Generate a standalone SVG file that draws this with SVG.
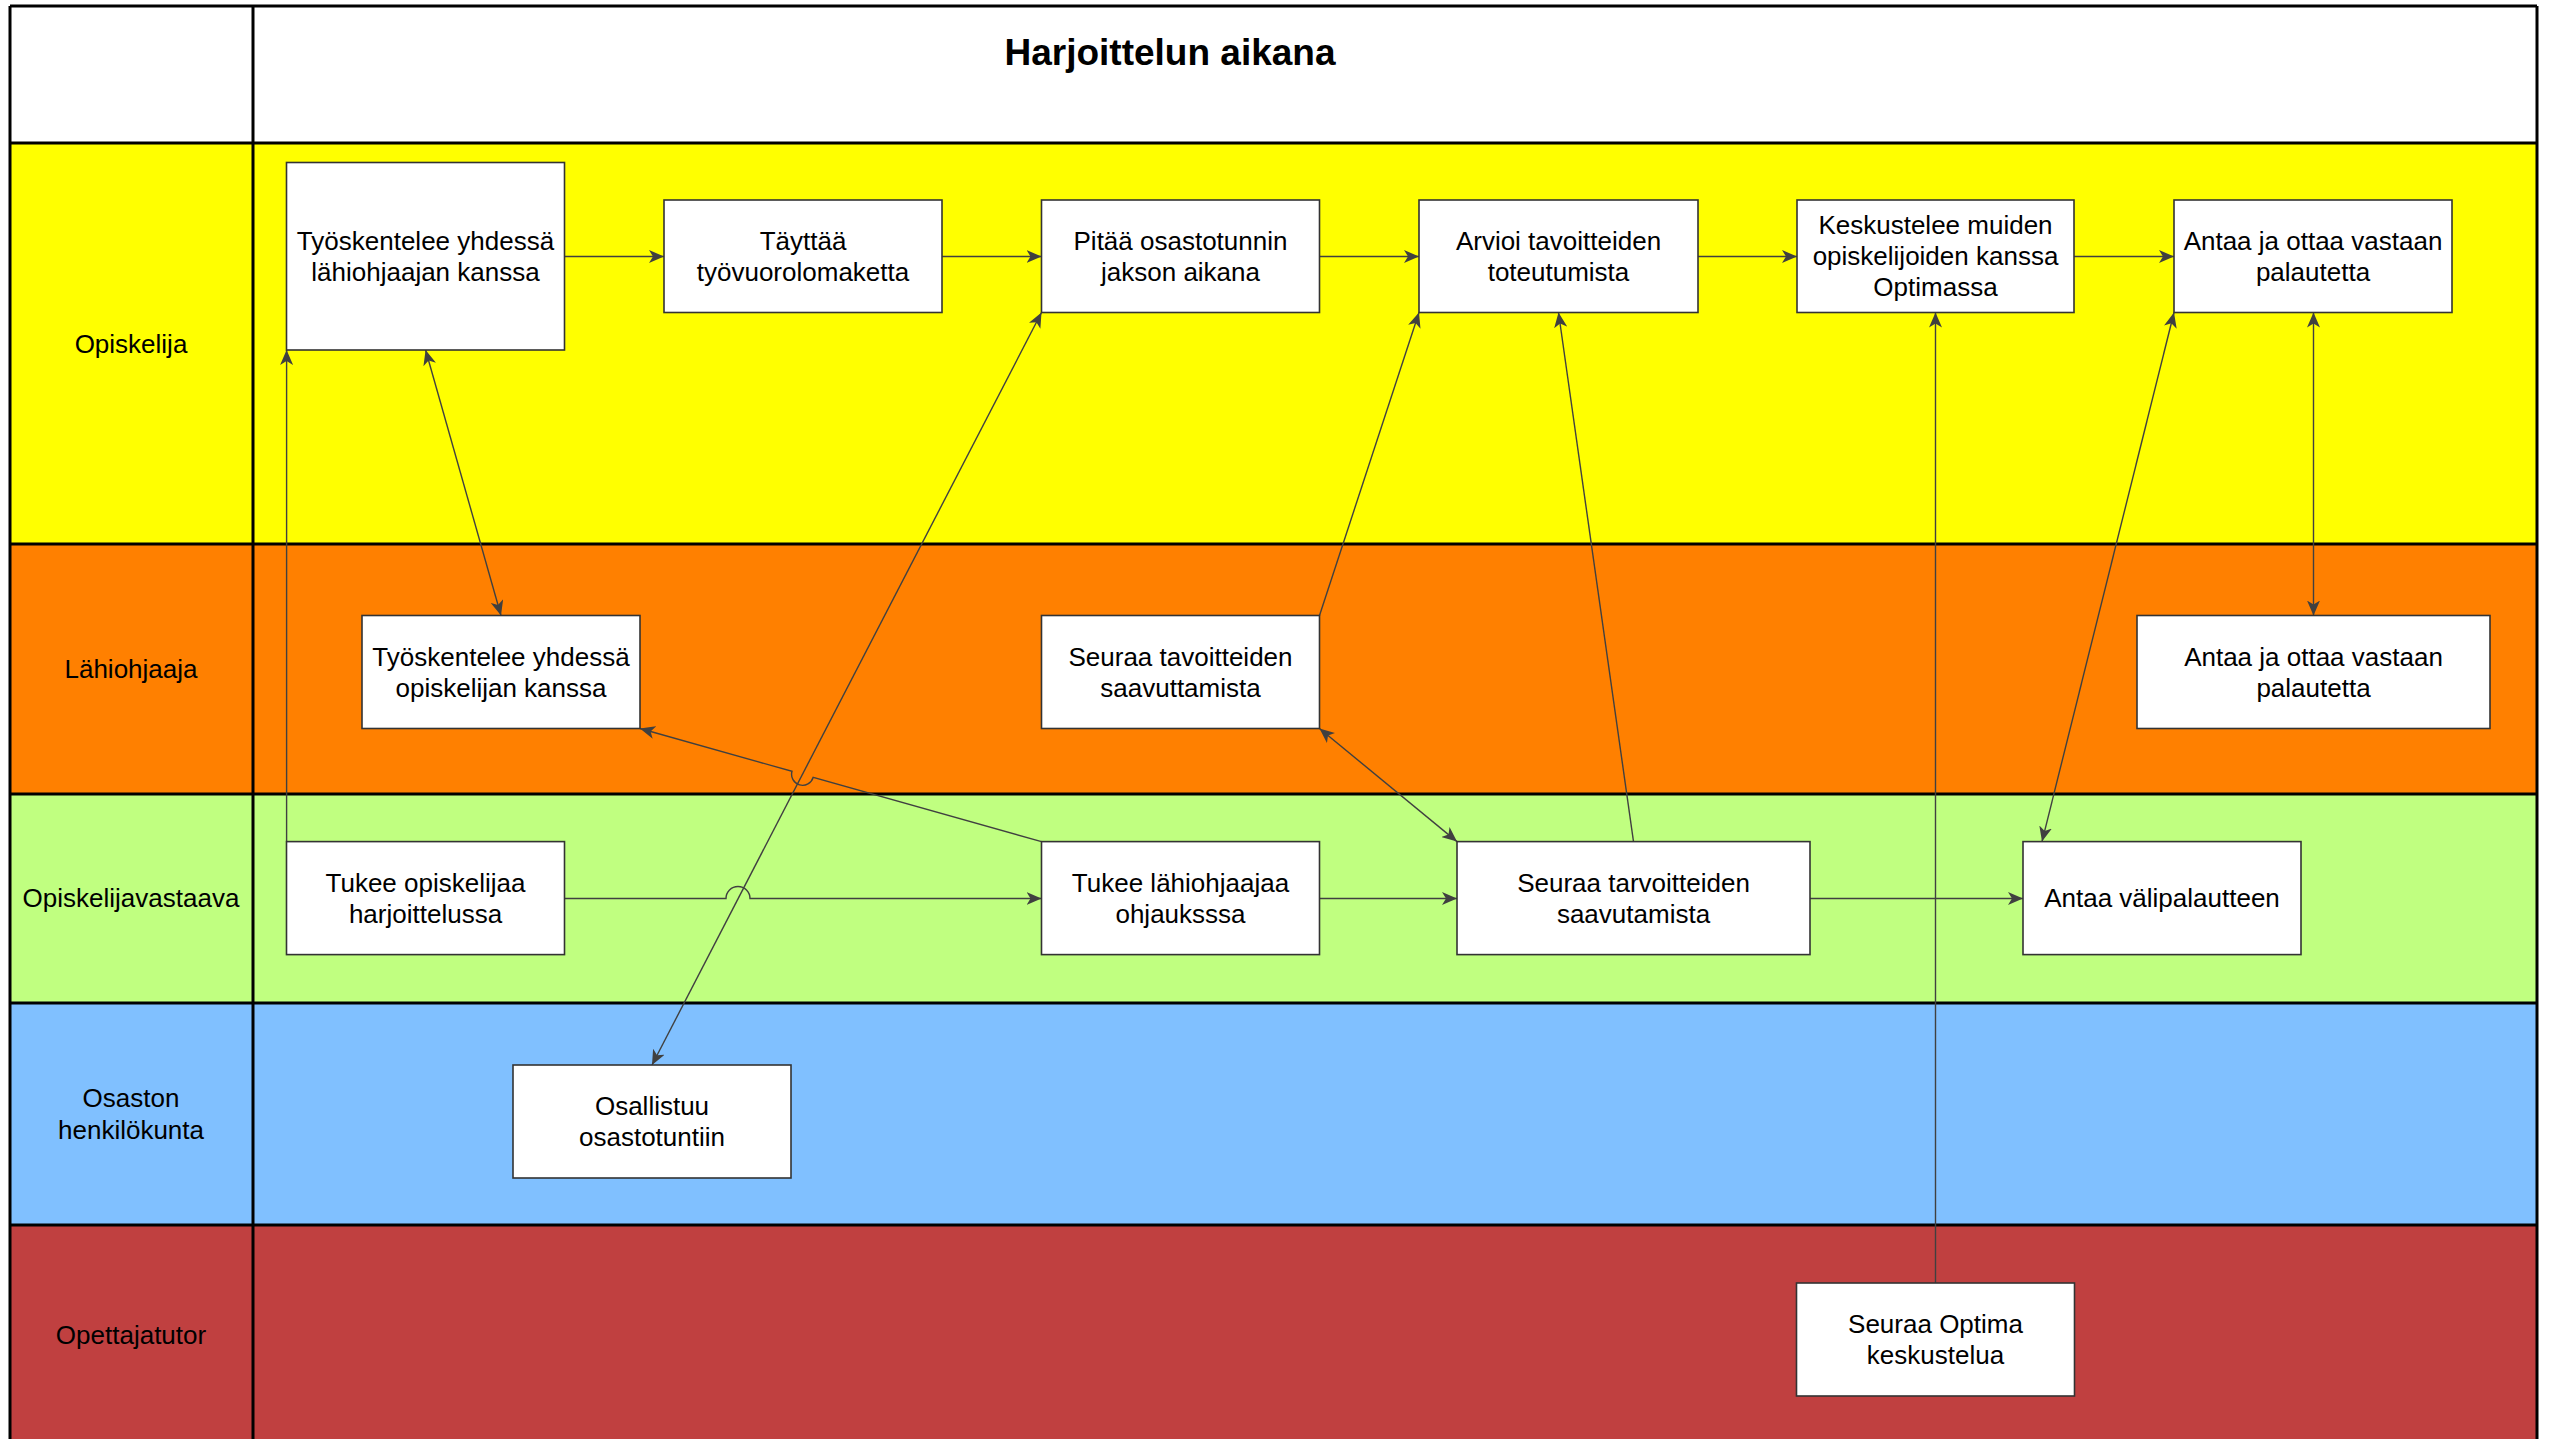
<svg xmlns="http://www.w3.org/2000/svg" width="2552" height="1439" viewBox="0 0 2552 1439">
<defs>
<style>
.lane-line{stroke:#000;stroke-width:3;fill:none}
.box{fill:#fff;stroke:#333;stroke-width:1.6}
.t{font-family:"Liberation Sans",Arial,sans-serif;font-size:26px;fill:#000;text-anchor:middle}
.title{font-family:"Liberation Sans",Arial,sans-serif;font-size:37px;font-weight:bold;fill:#000;text-anchor:middle}
.c{fill:none;stroke:#404040;stroke-width:1.4}
.a1{marker-end:url(#ah)}
.a2{marker-start:url(#ah);marker-end:url(#ah)}
</style>
<marker id="ah" viewBox="0 0 15 13" refX="15" refY="6.5" markerWidth="15" markerHeight="13" markerUnits="userSpaceOnUse" orient="auto-start-reverse">
<path d="M0,0 L15,6.5 L0,13 L4,6.5 z" fill="#404040"/>
</marker>
</defs>

<g id="lanes">
<rect x="10" y="6" width="2527" height="137" fill="#fff"/>
<rect x="10" y="143" width="2527" height="401" fill="#FFFF00"/>
<rect x="10" y="544" width="2527" height="250" fill="#FF8000"/>
<rect x="10" y="794" width="2527" height="209" fill="#C0FF80"/>
<rect x="10" y="1003" width="2527" height="222" fill="#80C0FF"/>
<rect x="10" y="1225" width="2527" height="220" fill="#C04040"/>
<path class="lane-line" d="M10,6 V1445 M253,6 V1445 M2537,6 V1445 M10,6 H2537 M10,143 H2537 M10,544 H2537 M10,794 H2537 M10,1003 H2537 M10,1225 H2537"/>
<text class="title" x="1170" y="65">Harjoittelun aikana</text>
<text class="t" x="131" y="353">Opiskelija</text>
<text class="t" x="131" y="678">Lähiohjaaja</text>
<text class="t" x="131" y="907">Opiskelijavastaava</text>
<text class="t" x="131" y="1107">Osaston</text>
<text class="t" x="131" y="1139">henkilökunta</text>
<text class="t" x="131" y="1344">Opettajatutor</text>
</g>

<g id="connectors">
<path class="c a1" d="M564.5,256.5 H664"/>
<path class="c a1" d="M942,256.5 H1041.5"/>
<path class="c a1" d="M1319.5,256.5 H1419"/>
<path class="c a1" d="M1698,256.5 H1797"/>
<path class="c a1" d="M2074,256.5 H2174"/>
<path class="c a1" d="M286.6,841.6 V350"/>
<path class="c a2" d="M425.6,350 L501,615.5"/>
<path class="c a1" d="M564.5,898.5 H726 A12,12 0 0 1 750,898.5 H1041.5"/>
<path class="c a2" d="M652,1065 L1041.5,312.5"/>
<path class="c a1" d="M1041.5,841.6 L813.2,777.3 A11,11 0 0 1 792,771.3 L640,728.5"/>
<path class="c a1" d="M1319.5,615.5 L1419,312.5"/>
<path class="c a2" d="M1319.5,728.5 L1457,841.6"/>
<path class="c a1" d="M1319.5,898.5 H1457"/>
<path class="c a1" d="M1633.5,841.6 L1558.5,312.5"/>
<path class="c a1" d="M1810,898.5 H2023"/>
<path class="c a1" d="M1935.5,1283 V312.5"/>
<path class="c a2" d="M2174,312.5 L2042,841.6"/>
<path class="c a2" d="M2313.5,312.5 V615.5"/>
</g>

<g id="n1"><rect class="box" x="286.5" y="162.5" width="278" height="187.5"/><text class="t" x="425.5" y="250">Työskentelee yhdessä</text><text class="t" x="425.5" y="281">lähiohjaajan kanssa</text></g>
<g id="n2"><rect class="box" x="664" y="200" width="278" height="112.5"/><text class="t" x="803" y="250">Täyttää</text><text class="t" x="803" y="281">työvuorolomaketta</text></g>
<g id="n3"><rect class="box" x="1041.5" y="200" width="278" height="112.5"/><text class="t" x="1180.5" y="250">Pitää osastotunnin</text><text class="t" x="1180.5" y="281">jakson aikana</text></g>
<g id="n4"><rect class="box" x="1419" y="200" width="279" height="112.5"/><text class="t" x="1558.5" y="250">Arvioi tavoitteiden</text><text class="t" x="1558.5" y="281">toteutumista</text></g>
<g id="n5"><rect class="box" x="1797" y="200" width="277" height="112.5"/><text class="t" x="1935.5" y="234">Keskustelee muiden</text><text class="t" x="1935.5" y="265">opiskelijoiden kanssa</text><text class="t" x="1935.5" y="296">Optimassa</text></g>
<g id="n6"><rect class="box" x="2174" y="200" width="278" height="112.5"/><text class="t" x="2313" y="250">Antaa ja ottaa vastaan</text><text class="t" x="2313" y="281">palautetta</text></g>
<g id="n7"><rect class="box" x="362" y="615.5" width="278" height="113"/><text class="t" x="501" y="666">Työskentelee yhdessä</text><text class="t" x="501" y="697">opiskelijan kanssa</text></g>
<g id="n8"><rect class="box" x="1041.5" y="615.5" width="278" height="113"/><text class="t" x="1180.5" y="666">Seuraa tavoitteiden</text><text class="t" x="1180.5" y="697">saavuttamista</text></g>
<g id="n9"><rect class="box" x="2137" y="615.5" width="353" height="113"/><text class="t" x="2313.5" y="666">Antaa ja ottaa vastaan</text><text class="t" x="2313.5" y="697">palautetta</text></g>
<g id="n10"><rect class="box" x="286.5" y="841.6" width="278" height="113"/><text class="t" x="425.5" y="892">Tukee opiskelijaa</text><text class="t" x="425.5" y="923">harjoittelussa</text></g>
<g id="n11"><rect class="box" x="1041.5" y="841.6" width="278" height="113"/><text class="t" x="1180.5" y="892">Tukee lähiohjaajaa</text><text class="t" x="1180.5" y="923">ohjauksssa</text></g>
<g id="n12"><rect class="box" x="1457" y="841.6" width="353" height="113"/><text class="t" x="1633.5" y="892">Seuraa tarvoitteiden</text><text class="t" x="1633.5" y="923">saavutamista</text></g>
<g id="n13"><rect class="box" x="2023" y="841.6" width="278" height="113"/><text class="t" x="2162" y="907">Antaa välipalautteen</text></g>
<g id="n14"><rect class="box" x="513" y="1065" width="278" height="113"/><text class="t" x="652" y="1115">Osallistuu</text><text class="t" x="652" y="1146">osastotuntiin</text></g>
<g id="n15"><rect class="box" x="1796.5" y="1283" width="278" height="113"/><text class="t" x="1935.5" y="1333">Seuraa Optima</text><text class="t" x="1935.5" y="1364">keskustelua</text></g>
</svg>
